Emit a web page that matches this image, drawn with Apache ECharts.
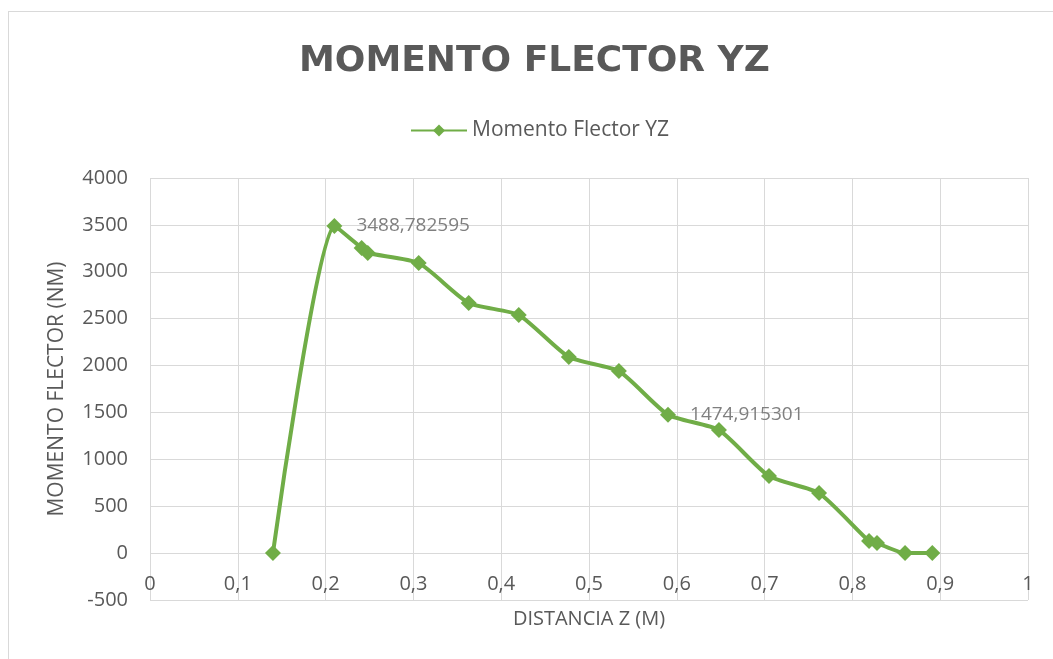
<!DOCTYPE html>
<html>
<head>
<meta charset="utf-8">
<script src="https://cdn.jsdelivr.net/npm/echarts@6/dist/echarts.min.js"></script>
<style>
body { margin:0; background:#fff; }
#frame { position:absolute; left:8px; top:11px; width:1100px; height:700px; border-left:1px solid #d9d9d9; border-top:1px solid #d9d9d9; }
#main { position:absolute; left:0; top:0; width:1053px; height:659px; }
</style>
</head>
<body>
<div id="frame"></div>
<div id="main"></div>
<script>
// datos
var distZ = [0.14, 0.21, 0.241, 0.248, 0.306, 0.363, 0.42, 0.477, 0.534, 0.59, 0.648, 0.705, 0.762, 0.819, 0.828, 0.86, 0.891];
var momento = [0, 3488.782595, 3253, 3200, 3093, 2667, 2539, 2091, 1941, 1474.915301, 1312, 821, 640, 128, 107, 0, 0];
var labelIdx = [1, 9]; // puntos con etiqueta
var seriesName = 'Momento Flector YZ';

function coma(v){ return String(v).replace('.', ','); }

var pts = distZ.map(function(x, i){
    var p = { value: [x, momento[i]] };
    if (labelIdx.indexOf(i) >= 0) {
        p.label = { show: true };
    }
    return p;
});

var chart = echarts.init(document.getElementById('main'));
var option = {
    animation: false,
    title: {
        text: 'MOMENTO FLECTOR YZ',
        left: 294,
        top: 39,
        textStyle: { fontFamily: 'DejaVu Sans', fontWeight: 'bold', fontSize: 36, color: '#595959' }
    },
    legend: {
        top: 115,
        left: 405,
        itemWidth: 56,
        itemHeight: 15,
        itemGap: 4,
        textStyle: { fontFamily: 'Open Sans', fontSize: 21, color: '#595959' },
        data: [seriesName]
    },
    grid: { left: 150, right: 25, top: 178, bottom: 59, outerBoundsMode: 'none' },
    xAxis: {
        type: 'value',
        min: 0, max: 1, interval: 0.1,
        name: 'DISTANCIA Z (M)',
        nameLocation: 'middle',
        nameGap: 9,
        nameTextStyle: { fontFamily: 'Open Sans', fontSize: 20, color: '#595959', verticalAlign: 'top' },
        axisLine: { show: false, onZero: false },
        axisTick: { show: false },
        axisLabel: {
            margin: -26,
            fontFamily: 'Open Sans', fontSize: 20, color: '#595959',
            formatter: function(v){ return coma(Math.round(v * 10) / 10); }
        },
        splitLine: { show: true, lineStyle: { color: '#d9d9d9', width: 1 } }
    },
    yAxis: {
        type: 'value',
        min: -500, max: 4000, interval: 500,
        name: 'MOMENTO FLECTOR (NM)',
        nameLocation: 'middle',
        nameGap: 82,
        nameTextStyle: { fontFamily: 'Open Sans', fontSize: 21, color: '#595959' },
        axisLine: { show: false },
        axisTick: { show: false },
        axisLabel: {
            margin: 22, fontFamily: 'Open Sans', fontSize: 20, color: '#595959',
            formatter: function(v){ return String(v); }
        },
        splitLine: { show: true, lineStyle: { color: '#d9d9d9', width: 1 } }
    },
    series: [{
        name: seriesName,
        type: 'line',
        smooth: 0.2,
        data: pts,
        symbol: 'diamond',
        symbolSize: 16,
        color: '#70ad47',
        lineStyle: { width: 4, color: '#70ad47' },
        itemStyle: { color: '#70ad47' },
        label: {
            show: false,
            position: 'right',
            distance: 14,
            fontFamily: 'Open Sans', fontSize: 19, color: '#7f7f7f',
            formatter: function(p){ return coma(p.value[1]); }
        }
    }]
};
chart.setOption(option);
</script>
</body>
</html>
